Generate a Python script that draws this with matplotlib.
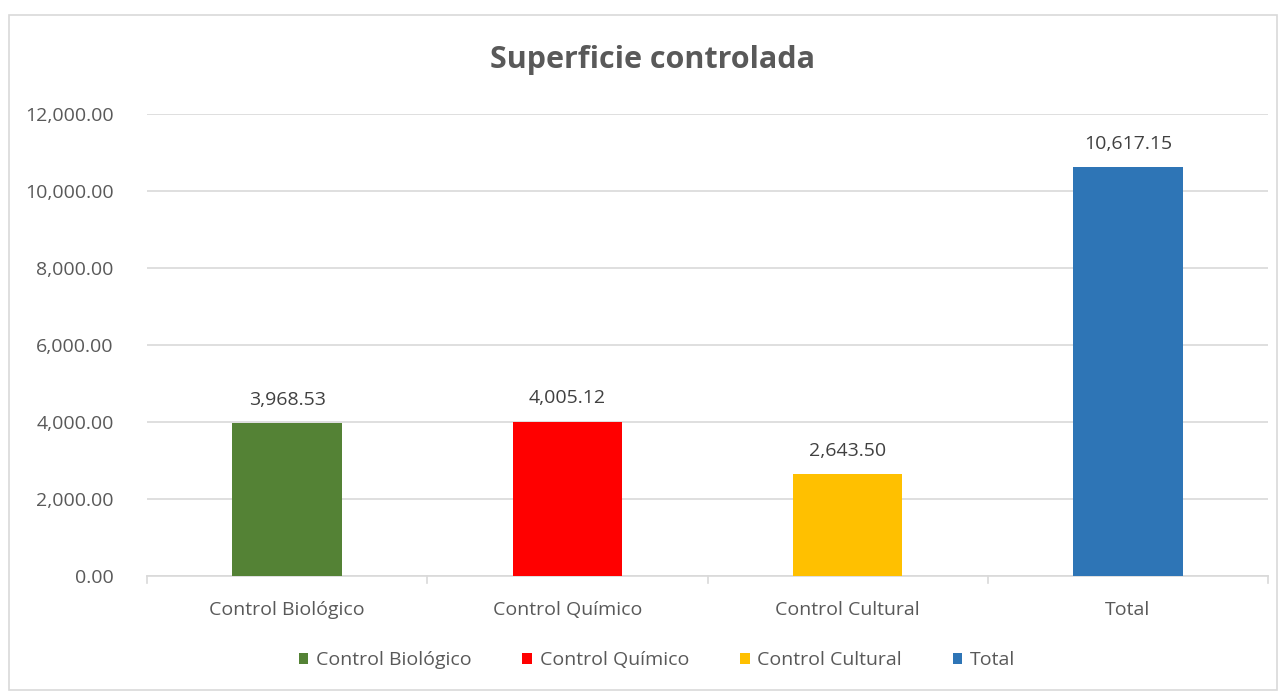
import matplotlib.pyplot as plt
from matplotlib.patches import Rectangle, Patch

categories = ['Control Biológico', 'Control Químico', 'Control Cultural', 'Total']
values = [3968.53, 4005.12, 2643.50, 10617.15]
colors = ['#548235', '#FF0000', '#FFC000', '#2E75B6']
yticks = [0, 2000, 4000, 6000, 8000, 10000, 12000]

plt.rcParams['font.family'] = ['Open Sans', 'DejaVu Sans']
txt = '#595959'
fs = 14

fig = plt.figure(figsize=(12.88, 6.92), dpi=100)
ax = fig.add_axes([147/1288, 1 - 576/692, (1268 - 147)/1288, (576 - 114)/692])

# chart border
fig.patches.append(Rectangle((9/1288, 2/692), 1268/1288, 675/692, transform=fig.transFigure,
                             fill=False, edgecolor='#D9D9D9', linewidth=1.2))

x = range(len(categories))
ax.bar(x, values, width=0.39, color=colors, zorder=3)
for i, v in enumerate(values):
    ax.text(i, v + 380, f'{v:,.2f}', ha='center', va='bottom', fontsize=fs, color='#404040')

ax.set_xlim(-0.5, len(categories) - 0.5)
ax.set_ylim(0, 12000)
ax.set_yticks(yticks)
ax.set_yticklabels([f'{t:,.2f}' for t in yticks])
ax.set_xticks(list(x))
ax.set_xticklabels(categories)
ax.tick_params(axis='y', length=0, labelsize=fs, labelcolor=txt, pad=24)
ax.tick_params(axis='x', length=0, labelsize=fs, labelcolor=txt, pad=18)
ax.grid(axis='y', color='#D9D9D9', linewidth=1.2, zorder=0)
for s in ['top', 'right', 'left']:
    ax.spines[s].set_visible(False)
ax.spines['bottom'].set_color('#D9D9D9')
ax.spines['bottom'].set_linewidth(1.2)
# category separator ticks
for b in [-0.5, 0.5, 1.5, 2.5, 3.5]:
    ax.plot([b, b], [0, -180], color='#D9D9D9', linewidth=1.2, clip_on=False)

fig.text(653/1288, 1 - 60/692, 'Superficie controlada', ha='center', va='center',
         fontsize=22, fontweight='bold', color=txt)

handles = [Patch(facecolor=c) for c in colors]
fig.legend(handles, categories, loc='center', bbox_to_anchor=(657/1288, 1 - 660/692), ncol=4,
           frameon=False, fontsize=fs, labelcolor=txt, handlelength=0.5, handleheight=0.5,
           handletextpad=0.4, columnspacing=2.6)

fig.savefig('out.png', dpi=100)
